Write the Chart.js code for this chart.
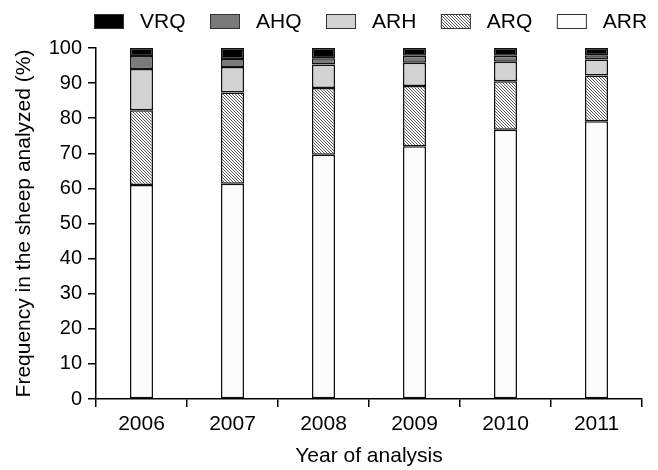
<!DOCTYPE html>
<html>
<head>
<meta charset="utf-8">
<script src="https://cdn.jsdelivr.net/npm/chart.js@4/dist/chart.umd.min.js"></script>
<style>
  body { margin: 0; background: #fff; }
  canvas { display: block; }
</style>
</head>
<body>
<canvas id="myChart" width="658" height="470"></canvas>
<script>
  const years = ['2006', '2007', '2008', '2009', '2010', '2011'];
  const ARR = [61.0, 61.3, 69.6, 72.0, 76.7, 79.1];
  const ARQ = [21.3, 26.0, 19.0, 17.2, 13.8, 13.1];
  const ARH = [11.7, 7.3, 6.7, 6.6, 5.6, 4.5];
  const AHQ = [3.7, 2.3, 1.8, 2.0, 1.7, 1.2];
  const VRQ = [2.3, 3.1, 2.9, 2.2, 2.2, 2.1];
  const yTicks = [0, 10, 20, 30, 40, 50, 60, 70, 80, 90, 100];

  const FONT = '"Liberation Sans", Arial, sans-serif';
  Chart.defaults.color = '#000';
  Chart.defaults.font.family = FONT;

  // fine diagonal hatch for ARQ
  function hatch() {
    const c = document.createElement('canvas');
    c.width = 3; c.height = 3;
    const g = c.getContext('2d');
    g.fillStyle = '#fff';
    g.fillRect(0, 0, 3, 3);
    g.fillStyle = '#555';
    for (let i = 0; i < 3; i++) g.fillRect(i, i, 1, 1);
    return g.createPattern(c, 'repeat');
  }

  const bar = (label, values, fill, edge) => ({
    label: label,
    data: values,
    backgroundColor: fill,
    borderColor: edge || '#111',
    borderWidth: 1.5,
    borderSkipped: false,
    barPercentage: 0.253,
    categoryPercentage: 1
  });

  // legend drawn across the top, VRQ first
  const topLegend = {
    id: 'topLegend',
    afterDraw(chart) {
      const ctx = chart.ctx;
      ctx.save();
      ctx.font = '21px ' + FONT;
      ctx.textBaseline = 'middle';
      let x = 94;
      chart.data.datasets.slice().reverse().forEach(ds => {
        ctx.fillStyle = ds.backgroundColor;
        ctx.fillRect(x, 14, 30, 15);
        ctx.lineWidth = 1;
        ctx.strokeStyle = '#333';
        ctx.strokeRect(x + 0.5, 14.5, 29, 14);
        ctx.fillStyle = '#000';
        ctx.fillText(ds.label, x + 46, 22);
        x += 46 + ctx.measureText(ds.label).width + 24.5;
      });
      ctx.restore();
    }
  };

  const data = {
    labels: years,
    datasets: [
      bar('ARR', ARR, '#fcfcfc'),
      bar('ARQ', ARQ, hatch()),
      bar('ARH', ARH, '#d3d3d3'),
      bar('AHQ', AHQ, '#7a7a7a'),
      bar('VRQ', VRQ, '#000')
    ]
  };

  const config = {
    type: 'bar',
    data: data,
    plugins: [topLegend],
    options: {
      responsive: false,
      animation: false,
      layout: { padding: { top: 48, right: 16, left: 0, bottom: 0 } },
      plugins: {
        legend: { display: false },
        tooltip: { enabled: false }
      },
      scales: {
        x: {
          stacked: true,
          border: { display: true, color: '#000', width: 1.5 },
          grid: { offset: true, drawOnChartArea: false, drawTicks: true, tickLength: 8, color: '#000', lineWidth: 1.5 },
          ticks: { font: { size: 21 }, padding: 5, color: '#000' },
          title: { display: true, text: 'Year of analysis', font: { size: 21 }, padding: { top: 1, bottom: 1 }, color: '#000' },
          afterFit(scale) { scale.height = 71; }
        },
        y: {
          stacked: true,
          min: 0,
          max: 100,
          afterBuildTicks(scale) { scale.ticks = yTicks.map(v => ({ value: v })); },
          border: { display: true, color: '#000', width: 1.5 },
          grid: { drawOnChartArea: false, drawTicks: true, tickLength: 8, color: '#000', lineWidth: 1.5 },
          ticks: { font: { size: 20 }, padding: 6, color: '#000' },
          title: { display: true, text: 'Frequency in the sheep analyzed (%)', font: { size: 21 }, padding: { top: 12, bottom: 12 }, color: '#000' },
          afterFit(scale) { scale.width = 96; }
        }
      }
    }
  };

  const myChart = new Chart(document.getElementById('myChart'), config);
</script>
</body>
</html>
